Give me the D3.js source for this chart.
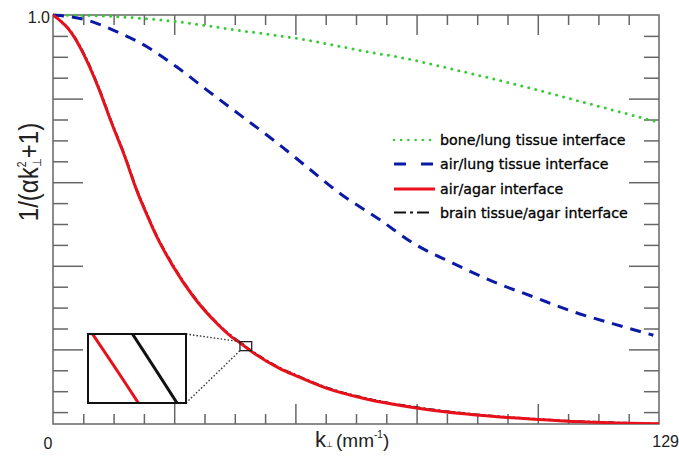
<!DOCTYPE html>
<html>
<head>
<meta charset="utf-8">
<script src="https://cdn.jsdelivr.net/npm/d3@7"></script>
<style>
  body { margin: 0; background: #fff; }
</style>
</head>
<body>
<svg width="679" height="457"></svg>
<script>
// values
const kRed = [0, 4, 6.8, 9.6, 12.5, 15.3, 17.8, 20.3, 21.4, 25.6, 29.9, 34.9, 38, 40, 42, 48.3, 51.9, 58, 66, 80.3, 94.5, 108.6, 129]
const vRed = [1, 0.956, 0.9, 0.828, 0.741, 0.661, 0.581, 0.514, 0.486, 0.398, 0.326, 0.262, 0.23, 0.214, 0.197, 0.154, 0.136, 0.108, 0.083, 0.055, 0.039, 0.029, 0.022]
const vBlack = [1, 0.958, 0.903, 0.831, 0.744, 0.664, 0.584, 0.517, 0.489, 0.401, 0.329, 0.264, 0.232, 0.216, 0.199, 0.156, 0.138, 0.11, 0.085, 0.057, 0.04, 0.03, 0.022]

const kBlue = [0, 7.2, 13.6, 20, 26.3, 32.7, 39.8, 46.9, 54, 61.1, 69.6, 76.7, 85.2, 93.7, 102.2, 110.8, 119.3, 127.8]
const vBlue = [1, 0.988, 0.96, 0.924, 0.876, 0.821, 0.761, 0.701, 0.637, 0.573, 0.51, 0.454, 0.406, 0.362, 0.326, 0.29, 0.261, 0.234]

const kGreen = [0, 13.6, 26.3, 39.1, 51.9, 59.7, 66.8, 73.2, 87.4, 101.6, 116, 128.4]
const vGreen = [1, 0.996, 0.984, 0.964, 0.944, 0.928, 0.912, 0.9, 0.864, 0.825, 0.782, 0.745]

const legendLabels = ['bone/lung tissue interface', 'air/lung tissue interface', 'air/agar interface', 'brain tissue/agar interface']
const xTickLabels = ['0', '129']
const yTickLabels = ['1.0']

// zoomed region shown in the inset
const boxK = [39.8, 42.3]
const boxV = [0.2185, 0.197]
const insetK = [39.8, 40.4]
const insetV = [0.2131, 0.2154]

const svg = d3.select('svg')
const width = +svg.attr('width')
const height = +svg.attr('height')

const margin = { top: 15, right: 20, bottom: 33, left: 53 }
const innerWidth = width - margin.left - margin.right
const innerHeight = height - margin.top - margin.bottom

const kMax = 129
const vMin = 1 - innerHeight / 418

const xScale = d3.scaleLinear().domain([0, kMax]).range([margin.left, margin.left + innerWidth])
const yScale = d3.scaleLinear().domain([vMin, 1]).range([margin.top + innerHeight, margin.top])

const zip = (ks, vs) => ks.map((k, i) => ({ k, v: vs[i] }))

const series = [
    { name: legendLabels[0], data: zip(kGreen, vGreen), color: '#33cc33', width: 3, dash: '0 7.2', cap: 'round' },
    { name: legendLabels[1], data: zip(kBlue, vBlue), color: '#0b1aa6', width: 3, dash: '11 8', cap: 'butt' },
    { name: legendLabels[3], data: zip(kRed, vBlack), color: '#111', width: 2, dash: '7 3 2 3', cap: 'butt' },
    { name: legendLabels[2], data: zip(kRed, vRed), color: '#e8101a', width: 3, dash: null, cap: 'butt' }
]

// ticks (inside, mirrored on all four sides)
const xTicks = d3.range(0, 21).map(i => i * kMax / 20)
const yTicks = d3.range(1, 20).map(i => i * 0.05)
const isMajorX = (d, i) => (i % 4 === 0)
const isMajorY = d => Math.abs(d * 5 - Math.round(d * 5)) < 1e-6

const tickColor = '#666'
const addAxis = (axis, ticks, sizeFn, transform) => {
    const g = svg.append('g').attr('transform', transform)
        .call(axis.tickValues(ticks).tickSize(0).tickFormat(''))
    g.select('.domain').remove()
    g.selectAll('.tick line').each(function (d, i) {
        const s = sizeFn(d, i)
        d3.select(this).attr(s.attr, s.len).attr('stroke', tickColor).attr('stroke-width', 1.5)
    })
}

const xInner = xTicks.slice(1, -1)
addAxis(d3.axisBottom(xScale), xInner, (d, i) => ({ attr: 'y2', len: isMajorX(d, i + 1) ? -20 : -10 }),
    `translate(0, ${margin.top + innerHeight})`)
addAxis(d3.axisTop(xScale), xInner, (d, i) => ({ attr: 'y2', len: isMajorX(d, i + 1) ? 20 : 10 }),
    `translate(0, ${margin.top})`)
addAxis(d3.axisLeft(yScale), yTicks, d => ({ attr: 'x2', len: isMajorY(d) ? 30 : 15 }),
    `translate(${margin.left}, 0)`)
addAxis(d3.axisRight(yScale), yTicks, d => ({ attr: 'x2', len: isMajorY(d) ? -30 : -15 }),
    `translate(${margin.left + innerWidth}, 0)`)

svg.append('rect')
    .attr('x', margin.left).attr('y', margin.top)
    .attr('width', innerWidth).attr('height', innerHeight)
    .attr('fill', 'none').attr('stroke', tickColor).attr('stroke-width', 1.5)

svg.append('clipPath').attr('id', 'plot-clip')
    .append('rect').attr('x', margin.left).attr('y', margin.top - 3)
    .attr('width', innerWidth).attr('height', innerHeight + 3)

const line = d3.line().x(d => xScale(d.k)).y(d => yScale(d.v)).curve(d3.curveMonotoneX)

svg.append('g').attr('clip-path', 'url(#plot-clip)')
    .selectAll('path').data(series)
    .enter().append('path')
        .attr('d', d => line(d.data))
        .attr('fill', 'none')
        .attr('stroke', d => d.color)
        .attr('stroke-width', d => d.width)
        .attr('stroke-dasharray', d => d.dash)
        .attr('stroke-linecap', d => d.cap)

// inset with zoomed view
const insetBox = { x0: 88, x1: 186, y0: 334, y1: 403 }
const xInset = d3.scaleLinear().domain(insetK).range([insetBox.x0, insetBox.x1])
const yInset = d3.scaleLinear().domain(insetV).range([insetBox.y1, insetBox.y0])
const insetLine = d3.line().x(d => xInset(d.k)).y(d => yInset(d.v)).curve(d3.curveMonotoneX)

const bx0 = xScale(boxK[0]), bx1 = xScale(boxK[1])
const by0 = yScale(boxV[0]), by1 = yScale(boxV[1])

svg.append('g').selectAll('line')
    .data([[insetBox.x1, insetBox.y0, bx0, by0], [insetBox.x1, insetBox.y1, bx0, by1]])
    .enter().append('line')
        .attr('x1', d => d[0]).attr('y1', d => d[1])
        .attr('x2', d => d[2]).attr('y2', d => d[3])
        .attr('stroke', '#333').attr('stroke-width', 1.4).attr('stroke-dasharray', '1.5 2')

svg.append('rect')
    .attr('x', bx0).attr('y', by0).attr('width', bx1 - bx0).attr('height', by1 - by0)
    .attr('fill', 'none').attr('stroke', '#222').attr('stroke-width', 1.3)

svg.append('rect')
    .attr('x', insetBox.x0).attr('y', insetBox.y0)
    .attr('width', insetBox.x1 - insetBox.x0).attr('height', insetBox.y1 - insetBox.y0)
    .attr('fill', '#fff').attr('stroke', '#111').attr('stroke-width', 2)

svg.append('clipPath').attr('id', 'inset-clip')
    .append('rect').attr('x', insetBox.x0 + 1).attr('y', insetBox.y0 + 1)
    .attr('width', insetBox.x1 - insetBox.x0 - 2).attr('height', insetBox.y1 - insetBox.y0 - 2)

svg.append('g').attr('clip-path', 'url(#inset-clip)')
    .selectAll('path').data(series.slice(2))
    .enter().append('path')
        .attr('d', d => insetLine(d.data))
        .attr('fill', 'none')
        .attr('stroke', d => d.color)
        .attr('stroke-width', 3)

// legend
const legendOrder = [0, 1, 3, 2]
const legendY = [140, 164, 189, 212.5]
const legend = svg.append('g')
legendOrder.forEach((si, i) => {
    const s = series[si]
    legend.append('line')
        .attr('x1', 394).attr('x2', 435)
        .attr('y1', legendY[i]).attr('y2', legendY[i])
        .attr('stroke', s.color)
        .attr('stroke-width', si === 0 ? 2.6 : (si === 2 ? 2 : 3))
        .attr('stroke-dasharray', si === 1 ? '12 15' : (si === 2 ? '12 4 3 4 12' : s.dash))
        .attr('stroke-linecap', s.cap)
    legend.append('text')
        .attr('x', 440).attr('y', legendY[i] + 5)
        .style('font-family', "'DejaVu Sans', sans-serif")
        .style('font-size', '14.2px')
        .attr('fill', '#000')
        .attr('stroke', '#000').attr('stroke-width', 0.3)
        .text(s.name)
})

const font = "'Liberation Sans', Arial, sans-serif"

// tick labels
svg.append('text').attr('x', 50).attr('y', 22.5).attr('text-anchor', 'end')
    .style('font-family', font).style('font-size', '16px').attr('fill', '#222').text(yTickLabels[0])
svg.append('text').attr('x', xScale(0) - 5).attr('y', 449).attr('text-anchor', 'middle')
    .style('font-family', font).style('font-size', '16px').attr('fill', '#222').text(xTickLabels[0])
svg.append('text').attr('x', 679).attr('y', 447).attr('text-anchor', 'end')
    .style('font-family', font).style('font-size', '16px').attr('fill', '#222').text(xTickLabels[1])

// axis titles
const xTitle = svg.append('text').attr('x', 315).attr('y', 447).attr('fill', '#222')
    .style('font-family', font)
xTitle.append('tspan').style('font-size', '22px').text('k')
xTitle.append('tspan').style('font-size', '8px').text('⊥')
xTitle.append('tspan').style('font-size', '19px').attr('dx', 3).text('(mm')
xTitle.append('tspan').style('font-size', '10px').attr('dy', -9).text('-1')
xTitle.append('tspan').style('font-size', '19px').attr('dy', 9).text(')')

const yTitle = svg.append('text')
    .attr('transform', 'translate(38, 172) rotate(-90) scale(0.86, 1)')
    .attr('text-anchor', 'middle')
    .style('font-family', font).style('font-size', '28px').attr('fill', '#222')
yTitle.append('tspan').text('1/(αk')
yTitle.append('tspan').style('font-size', '12px').attr('dy', -12).text('2')
yTitle.append('tspan').style('font-size', '12px').attr('dx', -7).attr('dy', 15).text('⊥')
yTitle.append('tspan').attr('dy', -3).text('+1)')
</script>
</body>
</html>
